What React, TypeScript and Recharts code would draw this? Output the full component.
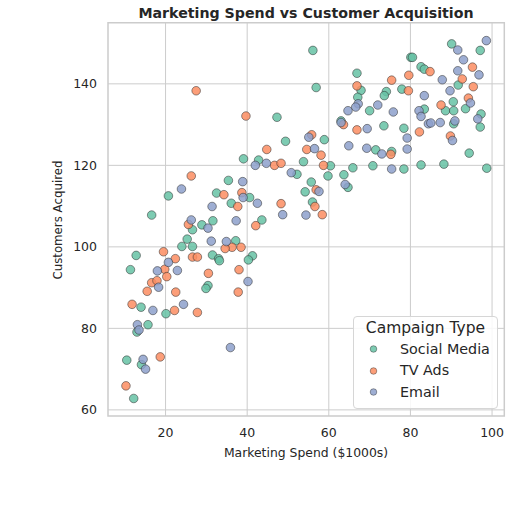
import React from 'react';
import { ScatterChart, Scatter, XAxis, YAxis, ZAxis, CartesianGrid, ReferenceArea, Legend } from 'recharts';

const socialX = [56.1, 66.9, 67.9, 56.9, 67.1, 70.0, 47.3, 63.0, 58.9, 49.4, 90.1, 97.1, 80.1, 80.5, 82.6, 83.4, 91.7, 77.9, 74.1, 73.6, 90.5, 83.4, 88.6, 90.6, 93.5, 97.3, 97.1, 90.6, 73.5, 78.4, 71.5, 75.4, 94.4, 70.8, 78.4, 82.6, 88.2, 98.7, 39.1, 42.8, 53.8, 60.4, 65.9, 63.7, 59.8, 52.2, 55.7, 64.7, 40.6, 54.2, 56.0, 43.6, 37.2, 41.3, 40.3, 35.4, 20.7, 32.5, 36.1, 16.6, 26.6, 28.9, 31.6, 25.3, 24.0, 26.6, 12.8, 31.5, 33.0, 33.2, 11.4, 30.4, 29.9, 14.0, 20.1, 15.7, 13.0, 10.5, 14.1, 12.2];
const socialY = [148.2, 142.6, 138.4, 139.1, 136.7, 133.4, 131.8, 130.9, 126.3, 125.9, 149.8, 148.2, 146.5, 146.5, 144.2, 143.6, 139.7, 138.7, 138.1, 137.1, 135.6, 133.8, 133.4, 133.4, 133.9, 132.6, 129.4, 130.2, 129.7, 129.1, 123.8, 123.4, 123.0, 119.9, 119.1, 120.1, 120.3, 119.3, 121.6, 121.3, 120.9, 119.9, 119.4, 117.7, 117.4, 117.8, 115.9, 114.6, 112.1, 113.5, 111.0, 106.6, 101.5, 97.8, 96.8, 116.3, 112.5, 113.2, 110.7, 107.8, 104.2, 105.4, 106.4, 101.9, 100.1, 100.1, 97.9, 98.0, 97.1, 96.6, 94.4, 90.5, 89.8, 85.2, 83.6, 80.9, 79.1, 72.2, 71.1, 62.8];

const tvX = [27.5, 66.9, 39.7, 63.6, 66.9, 55.8, 44.8, 54.6, 58.1, 84.8, 95.2, 79.6, 75.4, 92.7, 95.4, 79.5, 94.2, 87.5, 82.2, 89.8, 75.2, 46.7, 48.3, 58.7, 38.7, 37.7, 56.9, 56.6, 48.3, 58.4, 42.1, 36.3, 34.6, 38.5, 38.0, 26.3, 34.3, 25.6, 19.5, 22.4, 26.6, 27.8, 19.8, 20.3, 30.5, 16.6, 17.9, 15.5, 22.5, 37.8, 11.8, 22.2, 27.8, 18.7, 10.3];
const tvY = [138.3, 139.5, 132.1, 130.0, 128.7, 127.5, 123.9, 123.9, 122.5, 143.0, 144.1, 142.1, 140.9, 141.2, 139.3, 138.3, 136.5, 134.8, 128.2, 127.2, 122.7, 120.0, 120.5, 120.0, 113.3, 109.9, 114.0, 109.9, 110.6, 107.9, 105.2, 99.9, 99.6, 99.9, 94.4, 117.4, 112.8, 105.5, 98.8, 97.1, 97.5, 97.5, 94.5, 92.7, 93.5, 91.2, 91.7, 89.1, 88.9, 88.9, 85.9, 84.4, 83.9, 73.0, 65.9];

const emailX = [67.2, 66.6, 64.7, 63.0, 69.4, 55.1, 64.9, 69.3, 56.5, 91.6, 98.6, 93.0, 91.6, 96.8, 87.8, 89.7, 83.4, 94.7, 72.0, 75.8, 82.1, 82.6, 96.5, 84.4, 85.0, 87.3, 90.9, 79.2, 90.3, 79.2, 73.0, 75.4, 42.0, 44.7, 50.8, 64.0, 38.9, 39.0, 42.5, 57.6, 48.7, 54.4, 37.3, 40.2, 23.9, 31.4, 26.3, 30.4, 31.2, 34.9, 20.7, 18.0, 22.9, 18.3, 16.9, 24.4, 13.1, 13.5, 35.9, 14.5, 15.1];
const emailY = [135.1, 134.3, 133.4, 130.5, 129.0, 126.9, 124.8, 124.2, 124.1, 148.3, 150.6, 145.9, 143.2, 142.2, 141.0, 138.3, 137.1, 135.3, 134.8, 133.1, 133.4, 132.0, 131.4, 130.2, 130.4, 130.5, 130.9, 126.7, 126.1, 124.0, 122.8, 119.1, 120.0, 120.5, 118.2, 115.3, 116.0, 112.1, 110.7, 113.6, 107.9, 107.8, 106.4, 91.5, 114.2, 109.9, 106.6, 104.6, 101.4, 101.3, 96.2, 94.1, 94.2, 90.1, 84.4, 85.9, 80.9, 79.6, 75.3, 72.4, 70.0];

const seriesNames = ['Social Media', 'TV Ads', 'Email'];
const seriesColors = ['#66c2a5', '#fc8d62', '#8da0cb'];
const xTicks = [20, 40, 60, 80, 100];
const yTicks = [60, 80, 100, 120, 140];

const toPoints = (xs: number[], ys: number[]) => xs.map((x, i) => ({ x, y: ys[i] }));
const seriesData = [toPoints(socialX, socialY), toPoints(tvX, tvY), toPoints(emailX, emailY)];

const FONT = '"DejaVu Sans", sans-serif';
const INK = '#262626';

const dot = (color: string) => (props: any) => (
  <circle cx={props.cx} cy={props.cy} r={4.3} fill={color} fillOpacity={0.85} stroke="#2a2a2a" strokeOpacity={0.85} strokeWidth={0.6} />
);

function LegendBox() {
  return (
    <div style={{ width: 145, height: 93, border: '1px solid #d6d6d6', borderRadius: 4, background: 'rgba(255,255,255,0.85)', fontFamily: FONT, color: INK, boxSizing: 'border-box' }}>
      <div style={{ textAlign: 'center', fontSize: 15.5, marginTop: 1, lineHeight: '20px' }}>Campaign Type</div>
      {seriesNames.map((name, i) => (
        <div key={name} style={{ display: 'flex', alignItems: 'center', height: 21.5, fontSize: 14.3 }}>
          <svg width={46} height={21}>
            <circle cx={19.5} cy={11} r={3.3} fill={seriesColors[i]} fillOpacity={0.85} stroke="#2a2a2a" strokeOpacity={0.85} strokeWidth={0.5} />
          </svg>
          <span>{name}</span>
        </div>
      ))}
    </div>
  );
}

export default function App() {
  return (
    <div style={{ position: 'absolute', left: 0, top: 0, width: 512, height: 512, background: '#fff' }}>
      <div style={{ position: 'absolute', left: 100, width: 412, top: 4, textAlign: 'center', fontFamily: FONT, fontWeight: 'bold', fontSize: 14.2, color: INK, lineHeight: '18px' }}>
        Marketing Spend vs Customer Acquisition
      </div>
      <div style={{ position: 'absolute', left: -42, top: 209.5, width: 200, height: 20, lineHeight: '20px', textAlign: 'center', transform: 'rotate(-90deg)', fontFamily: FONT, fontSize: 11.8, color: INK }}>
        Customers Acquired
      </div>
      <div style={{ position: 'absolute', left: 206, top: 443, width: 200, height: 20, lineHeight: '20px', textAlign: 'center', fontFamily: FONT, fontSize: 12.4, color: INK }}>
        Marketing Spend ($1000s)
      </div>
      <ScatterChart width={512} height={512} margin={{ top: 22.7, right: 7.7, bottom: 56, left: 48 }}>
        <CartesianGrid stroke="#cccccc" strokeWidth={1} horizontalValues={yTicks} verticalValues={xTicks} />
        <XAxis type="number" dataKey="x" domain={[5.9, 103]} ticks={xTicks} allowDataOverflow height={40}
          axisLine={false} tickLine={false} tickMargin={6}
          tick={{ fontSize: 12.5, fill: INK, fontFamily: FONT }} />
        <YAxis type="number" dataKey="y" domain={[58.5, 155]} ticks={yTicks} allowDataOverflow width={60}
          axisLine={false} tickLine={false} tickMargin={5}
          tick={{ fontSize: 12.5, fill: INK, fontFamily: FONT }} />
        <ZAxis range={[60, 60]} />
        <ReferenceArea x1={5.9} x2={103} y1={58.5} y2={155} fill="none" stroke="#cccccc" strokeWidth={1.5} ifOverflow="visible" />
        {seriesData.map((d, i) => (
          <Scatter key={seriesNames[i]} name={seriesNames[i]} data={d} fill={seriesColors[i]} shape={dot(seriesColors[i])} isAnimationActive={false} />
        ))}
        <Legend layout="vertical" align="center" verticalAlign="middle" content={() => <LegendBox />}
          wrapperStyle={{ left: 353, top: 316, width: 145, height: 93 }} />
      </ScatterChart>
    </div>
  );
}
